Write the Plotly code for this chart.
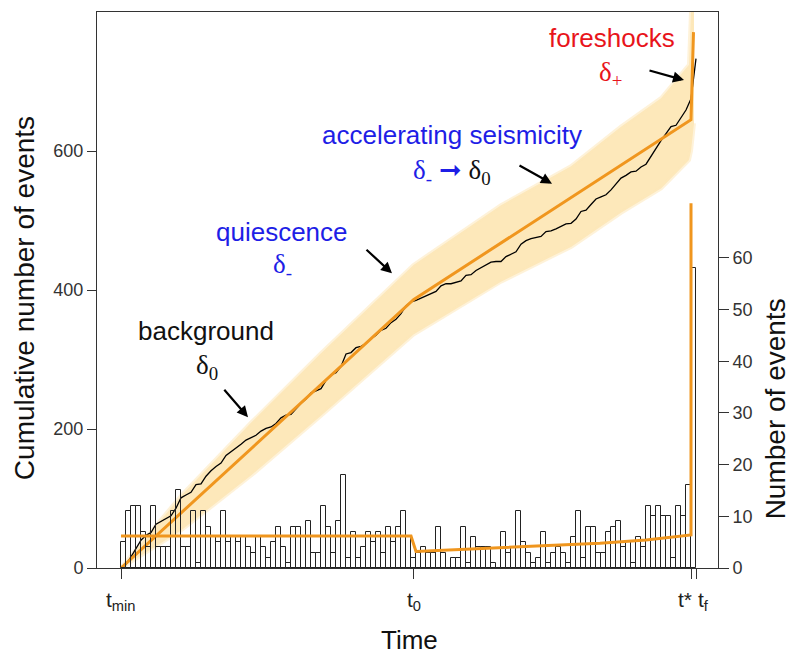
import numpy as np
import plotly.graph_objects as go

# ---- data -------------------------------------------------------------
# event counts per time bin (bin width = 1 time unit, starting at t_min = 0)
counts_background = [5, 11, 12, 12, 7, 4, 12, 4, 4, 4,
                     11, 15, 4, 4, 11, 1, 11, 8, 6, 5,
                     11, 5, 6, 5, 6, 4, 3, 6, 4, 2,
                     5, 8, 4, 1, 8, 8, 6, 9, 3, 3,
                     12, 8, 3, 9, 18, 2, 7, 2, 4, 7,
                     5, 7, 3, 8, 5, 8, 11, 6, 2]
counts_after_t0 = [3, 4, 3, 3, 8, 3, 0, 2, 2, 8,
                   1, 6, 4, 4, 4, 1, 0, 7, 3, 4,
                   11, 5, 3, 1, 2, 7, 1, 3, 4, 3,
                   1, 6, 11, 2, 8, 8, 3, 3, 7, 8,
                   9, 4, 5, 1, 6, 4, 12, 10, 12, 10,
                   10, 2, 12, 10, 16]
counts_foreshock = [58]

# characteristic times
T_MIN, T_0, T_STAR, T_F = 0.0, 58.5, 114.0, 115.0

# model: cumulative number of events (piecewise)
model_cum_t = [0.0, 58.5, 114.0, 114.5]
model_cum_n = [0, 386, 645, 771]

# model: expected events per bin
model_rate_t = [0.0, 58.0, 59.0, 75.8, 85.2, 95.8, 105.0, 113.5, 114.0, 114.0]
model_rate_n = [6.2, 6.2, 3.2, 3.9, 4.3, 4.8, 5.4, 6.3, 6.4, 70.6]

# confidence band of the cumulative model
band_t = [0, 5, 12, 26, 40, 58.5, 76, 90, 100, 108, 113.6, 114.0, 114.6]
band_lo = [0, 22, 54, 133, 219, 336, 412, 462, 511, 546, 587, 600, 640]
band_hi = [0, 44, 104, 209, 309, 436, 522, 578, 635, 676, 724, 800, 800]

x_ticks = [T_MIN, T_0, T_STAR, T_F]
x_ticktext = ["t<sub>min</sub>", "t<sub>0</sub>", "t*", "t<sub>f</sub>"]
y_ticks = [0, 200, 400, 600]
y2_ticks = [0, 10, 20, 30, 40, 50, 60]

# ---- derived ------------------------------------------------------------
counts = counts_background + counts_after_t0 + counts_foreshock
bin_left = np.arange(len(counts), dtype=float)
bin_center = bin_left + 0.5
cum_t = np.concatenate([[0.0], bin_left + 1.0])
cum_n = np.concatenate([[0], np.cumsum(counts)])

ORANGE = "#F0961E"
BAND = "#FDE8BA"
BLUE = "#1E1EE6"
RED = "#E8141B"
AXIS = "#333333"
SANS = "Liberation Sans, Arial, sans-serif"
SERIF = "Liberation Serif, Times New Roman, serif"

fig = go.Figure()

# confidence band with a soft edge
fig.add_trace(go.Scatter(x=band_t, y=band_lo, mode="lines",
                         line=dict(width=4, color="rgba(253,232,186,0.55)"),
                         hoverinfo="skip", showlegend=False))
fig.add_trace(go.Scatter(x=band_t, y=band_hi, mode="lines",
                         line=dict(width=4, color="rgba(253,232,186,0.55)"),
                         fill="tonexty", fillcolor=BAND, hoverinfo="skip", showlegend=False))

# observed cumulative count
fig.add_trace(go.Scatter(x=cum_t, y=cum_n, mode="lines",
                         line=dict(color="black", width=1.3), showlegend=False))
# model cumulative count
fig.add_trace(go.Scatter(x=model_cum_t, y=model_cum_n, mode="lines",
                         line=dict(color=ORANGE, width=3), showlegend=False))

# histogram of events per bin (right axis)
fig.add_trace(go.Bar(x=bin_center, y=counts, width=1.0, yaxis="y2",
                     marker=dict(color="rgba(0,0,0,0)", line=dict(color="#222222", width=1)),
                     showlegend=False))
# model rate (right axis)
fig.add_trace(go.Scatter(x=model_rate_t, y=model_rate_n, mode="lines", yaxis="y2",
                         line=dict(color=ORANGE, width=3), showlegend=False))

fig.update_layout(
    width=792, height=655,
    margin=dict(l=97, r=74, t=12, b=87),
    paper_bgcolor="white", plot_bgcolor="white",
    font=dict(family=SANS, color="#222222"),
    bargap=0,
    xaxis=dict(range=[-4.8, 119.4], showgrid=False, zeroline=False,
               showline=True, linecolor=AXIS, linewidth=1, mirror=True,
               tickvals=x_ticks, ticks="outside", ticklen=10, tickcolor=AXIS,
               showticklabels=False),
    yaxis=dict(range=[0, 800], showgrid=False, zeroline=False,
               showline=True, linecolor=AXIS, linewidth=1, mirror=True,
               tickvals=y_ticks, ticks="outside", ticklen=9, tickcolor=AXIS,
               tickfont=dict(size=18, color="#333333")),
    yaxis2=dict(range=[0, 107.6], overlaying="y", side="right", showgrid=False, zeroline=False,
                showline=False, tickvals=y2_ticks, ticks="outside", ticklen=10, tickcolor=AXIS,
                tickfont=dict(size=18, color="#333333")),
)

# axis titles
fig.add_annotation(x=0.504, y=-0.13, xref="paper", yref="paper", text="Time",
                   showarrow=False, yanchor="middle",
                   font=dict(size=26, family=SANS, color="#111111"))
fig.add_annotation(x=-0.117, y=0.486, xref="paper", yref="paper",
                   text="Cumulative number of events", textangle=-90,
                   showarrow=False, xanchor="center", yanchor="middle",
                   font=dict(size=28, family=SANS, color="#111111"))
fig.add_annotation(x=1.094, y=0.286, xref="paper", yref="paper",
                   text="Number of events", textangle=-90, borderpad=0,
                   showarrow=False, xanchor="center", yanchor="middle",
                   font=dict(size=28, family=SANS, color="#111111"))

# x tick labels
for tv, tt, dx in zip(x_ticks, x_ticktext, [0, 0, -6, 7]):
    fig.add_annotation(x=tv, y=0, xref="x", yref="paper", text=tt, showarrow=False,
                       yanchor="top", yshift=-18, xshift=dx,
                       font=dict(size=21, family=SANS, color="#222222"))

def label(x, y, text, color, size=26, family=SANS):
    fig.add_annotation(x=x, y=y, xref="x", yref="y", text=text, showarrow=False,
                       font=dict(size=size, family=family, color=color))

def arrow(x, y, ax, ay):
    fig.add_annotation(x=x, y=y, xref="x", yref="y", ax=ax, ay=ay, text="",
                       showarrow=True, arrowhead=2, arrowsize=1, arrowwidth=2.2,
                       arrowcolor="black")

label(98.2, 763, "foreshocks", RED)
label(97.8, 711, "δ<sub>+</sub>", RED, size=27, family=SERIF)
arrow(112.6, 702, -36, -10)

label(66.2, 623, "accelerating seismicity", BLUE)
label(66.2, 570,
      "<span style='color:%s'>δ<sub>-</sub> ➞ </span>δ<sub>0</sub>" % BLUE,
      "#111111", size=27, family=SERIF)
arrow(86.2, 553, -34, -19)

label(32.2, 483, "quiescence", BLUE)
label(32.2, 435, "δ<sub>-</sub>", BLUE, size=27, family=SERIF)
arrow(54.2, 424, -27, -25)

label(17.0, 341, "background", "#111111")
label(17.2, 289, "δ<sub>0</sub>", "#111111", size=27, family=SERIF)
arrow(25.4, 217, -25, -29)

fig.write_html("out.html")
